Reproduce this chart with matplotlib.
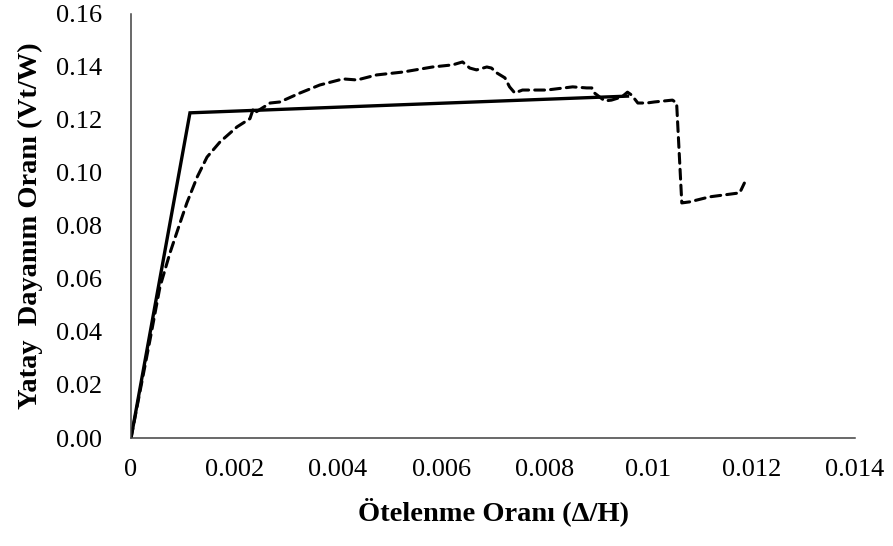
import matplotlib.pyplot as plt

# bilineer idealizasyon
ideal_x = [0.0, 0.00114, 0.0096]
ideal_y = [0.0, 0.1227, 0.1290]

# deney egrisi (kesikli)
test_x = [0.0, 0.000367, 0.00056, 0.000753, 0.000947, 0.00108, 0.00128, 0.00147,
          0.00172, 0.00205, 0.0023, 0.00236, 0.0024, 0.00269, 0.00288, 0.00327,
          0.00365, 0.0041, 0.00437, 0.00475, 0.00526, 0.00583, 0.00622, 0.00641,
          0.00655, 0.00668, 0.00688, 0.00697, 0.00707, 0.00723, 0.00732, 0.00742,
          0.00757, 0.00804, 0.00854, 0.00881, 0.00891, 0.00896, 0.00916, 0.00929,
          0.00949, 0.0096, 0.00968, 0.0098, 0.00997, 0.01012, 0.01047, 0.01055,
          0.01065, 0.0108, 0.01119, 0.01177, 0.01186]
test_y = [0.0, 0.037, 0.057, 0.0698, 0.0811, 0.0887, 0.0985, 0.106,
          0.1117, 0.1174, 0.1205, 0.124, 0.1228, 0.1264, 0.1268, 0.1302,
          0.1332, 0.1355, 0.1351, 0.137, 0.1381, 0.14, 0.1408, 0.1419,
          0.1396, 0.1389, 0.14, 0.1396, 0.1378, 0.1359, 0.1325, 0.1302,
          0.1313, 0.1313, 0.1325, 0.1321, 0.1321, 0.1302, 0.1272, 0.1275,
          0.1287, 0.1305, 0.1294, 0.1264, 0.1264, 0.1268, 0.1275, 0.1264,
          0.0887, 0.0891, 0.091, 0.0925, 0.0962]

x_ticks = [0, 0.002, 0.004, 0.006, 0.008, 0.01, 0.012, 0.014]
x_labels = ["0", "0.002", "0.004", "0.006", "0.008", "0.01", "0.012", "0.014"]
y_ticks = [0.0, 0.02, 0.04, 0.06, 0.08, 0.10, 0.12, 0.14, 0.16]
y_labels = ["%.2f" % v for v in y_ticks]

plt.rcParams['font.family'] = ['Liberation Serif', 'DejaVu Serif']

fig = plt.figure(figsize=(8.93, 5.46), dpi=100)
ax = fig.add_axes([0.1467, 0.1978, 0.8108, 0.7766])

ax.plot(ideal_x, ideal_y, color='black', linewidth=2.4, solid_joinstyle='miter')
ax.plot(test_x, test_y, color='black', linewidth=2.2, linestyle=(0, (3.2, 2.0)),
        dash_capstyle='round')

ax.set_xlim(0, 0.014)
ax.set_ylim(0, 0.16)
ax.set_xticks(x_ticks)
ax.set_xticklabels(x_labels)
ax.set_yticks(y_ticks)
ax.set_yticklabels(y_labels)
ax.tick_params(axis='both', length=0, labelsize=19)
ax.tick_params(axis='x', pad=15)
ax.tick_params(axis='y', pad=21)

for s in ['top', 'right']:
    ax.spines[s].set_visible(False)
for s in ['left', 'bottom']:
    ax.spines[s].set_color('#404040')
    ax.spines[s].set_linewidth(1.1)

ax.set_xlabel("Ötelenme Oranı (Δ/H)", fontsize=20.5, fontweight='bold', labelpad=12)
ax.set_ylabel("Yatay  Dayanım Oranı (Vt/W)", fontsize=20.5, fontweight='bold', labelpad=9)

fig.savefig("out.png", dpi=100)
